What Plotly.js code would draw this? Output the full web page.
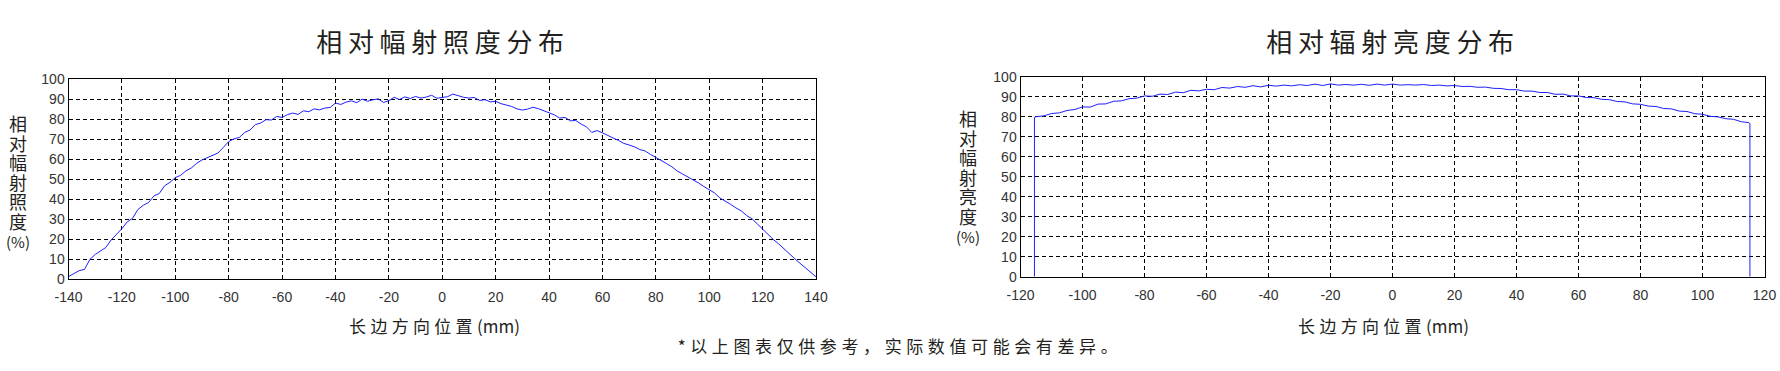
<!DOCTYPE html>
<html>
<head>
<meta charset="utf-8">
<script src="https://cdn.plot.ly/plotly-3.0.1.min.js"></script>
<style>
  html, body { margin: 0; padding: 0; background: #fff; }
  #chart { width: 1780px; height: 371px; }
  g.annotation[data-index="0"] text, g.annotation[data-index="1"] text { letter-spacing: 5.7px; }
  g.annotation[data-index="2"] text, g.annotation[data-index="3"] text { letter-spacing: 4.3px; }
  g.annotation[data-index="4"] text { letter-spacing: 4.6px; }
</style>
</head>
<body>
<div id="chart"></div>
<script>
// ---------- DATA ----------
const irradianceTitle = '相对幅射照度分布';
const radianceTitle = '相对辐射亮度分布';
const xAxisTitleMain = '长边方向位置';
const xAxisTitleUnit = '(mm)';
const irradianceYTitle = ['相', '对', '幅', '射', '照', '度'];
const radianceYTitle = ['相', '对', '幅', '射', '亮', '度'];
const yTitleUnit = '(%)';
const footnote = '*以上图表仅供参考，实际数值可能会有差异。';

const irradianceTickVals = [-140,-120,-100,-80,-60,-40,-20,0,20,40,60,80,100,120,140];
const irradianceTickText = ['-140','-120','-100','-80','-60','-40','-20','0','20','40','60','80','100','120','140'];
const radianceTickVals = [-120,-100,-80,-60,-40,-20,0,20,40,60,80,100,120];
const radianceTickText = ['-120','-100','-80','-60','-40','-20','0','20','40','60','80','100','120'];

const irradianceX = [
  -140,-138,-136,-134,-132,-130,-128,-126,-124,-122,-120,-118,-116,-114,-112,-110,-108,-106,-104,-102,
  -100,-98,-96,-94,-92,-90,-88,-86,-84,-82,-80,-78,-76,-74,-72,-70,-68,-66,-64,-62,
  -60,-58,-56,-54,-52,-50,-48,-46,-44,-42,-40,-38,-36,-34,-32,-30,-28,-26,-24,-22,
  -20,-18,-16,-14,-12,-10,-8,-6,-4,-2,0,2,4,6,8,10,12,14,16,18,
  20,22,24,26,28,30,32,34,36,38,40,42,44,46,48,50,52,54,56,58,
  60,62,64,66,68,70,72,74,76,78,80,82,84,86,88,90,92,94,96,98,
  100,102,104,106,108,110,112,114,116,118,120,122,124,126,128,130,132,134,136,138,140
];
const irradianceY = [
  1.2,2.8,4.2,4.8,9.8,12.3,14.2,15.8,19.6,22.4,25.2,28.6,30.4,34.8,36.9,38.3,41.6,42.8,46.7,48.4,
  50.8,51.9,54.2,55.6,57.9,59.6,60.8,62.3,63.1,65.9,68.8,70.2,70.9,73.4,74.6,77.3,78.1,79.8,79.6,81.4,
  80.9,82.3,83.1,82.4,84.2,83.8,85.2,84.7,85.6,85.9,88.1,87.4,88.6,89.2,88.3,90.1,89.0,89.7,90.2,88.4,
  89.3,91.0,89.9,91.2,90.4,91.4,90.6,91.1,92.0,90.5,90.8,91.3,92.6,91.7,91.0,90.6,90.9,89.4,89.8,88.7,
  89.0,87.8,87.1,86.4,85.2,84.6,85.1,86.0,85.3,84.2,83.1,82.2,80.6,80.9,79.2,79.4,77.6,76.2,73.4,74.3,
  73.2,72.1,70.6,69.4,67.9,67.1,66.2,64.8,64.1,62.4,61.0,59.3,57.8,56.2,54.1,52.6,51.2,49.4,48.1,46.3,
  44.8,43.1,40.6,39.2,37.4,35.6,34.1,31.8,30.2,27.6,24.9,22.3,19.8,17.6,15.1,12.4,10.2,7.9,5.6,3.2,1.1
];

const radianceX = [
  -115.5,-115.5,
  -115,-112.5,-110,-107.5,-105,-102.5,-100,-97.5,-95,-92.5,-90,-87.5,-85,-82.5,-80,-77.5,-75,-72.5,
  -70,-67.5,-65,-62.5,-60,-57.5,-55,-52.5,-50,-47.5,-45,-42.5,-40,-37.5,-35,-32.5,-30,-27.5,-25,-22.5,
  -20,-17.5,-15,-12.5,-10,-7.5,-5,-2.5,0,2.5,5,7.5,10,12.5,15,17.5,20,22.5,25,27.5,
  30,32.5,35,37.5,40,42.5,45,47.5,50,52.5,55,57.5,60,62.5,65,67.5,70,72.5,75,77.5,
  80,82.5,85,87.5,90,92.5,95,97.5,100,102.5,105,107.5,110,112.5,115,
  115.3,115.3
];
const radianceY = [
  0,79.6,
  80.0,80.4,81.6,81.9,83.1,83.6,84.9,84.8,86.3,86.4,87.7,87.9,89.0,89.3,90.4,90.2,91.3,91.1,
  92.3,92.0,93.2,92.9,93.7,93.5,94.6,94.3,95.1,94.7,95.5,94.9,95.7,95.3,95.8,95.4,96.0,95.6,96.3,95.6,
  96.4,95.8,96.1,95.8,96.2,95.7,96.3,95.8,96.3,95.8,96.0,95.8,96.1,95.6,95.8,95.4,95.6,95.1,95.2,94.7,
  94.8,94.2,94.1,93.5,93.5,92.8,92.8,92.1,92.1,91.2,91.3,90.4,90.4,89.6,89.5,88.7,88.5,87.6,87.4,86.4,
  86.2,85.3,85.1,84.1,83.9,82.8,82.6,81.5,81.2,80.2,79.9,79.0,78.7,77.5,77.0,
  76.4,0
];

// ---------- LAYOUT ----------
const W = 1780, H = 371;
const px = x => x / W;
const py = y => 1 - y / H;

const cjk = '"Noto Sans CJK SC", "Noto Sans", sans-serif';
const num = '"Liberation Sans", Arial, sans-serif';
const textColor = '#231f20';

const axisCommon = {
  showgrid: true,
  gridcolor: '#000000',
  gridwidth: 1,
  griddash: '4px,3px',
  zeroline: false,
  showline: true,
  linecolor: '#000000',
  linewidth: 1,
  mirror: true,
  ticks: '',
  tickfont: { family: num, size: 14, color: '#333333' },
  fixedrange: true
};

const lineStyle = { color: '#1e1eff', width: 1 };

const traces = [
  { x: irradianceX, y: irradianceY, type: 'scatter', mode: 'lines', line: lineStyle, xaxis: 'x', yaxis: 'y', hoverinfo: 'skip' },
  { x: radianceX, y: radianceY, type: 'scatter', mode: 'lines', line: lineStyle, xaxis: 'x2', yaxis: 'y2', hoverinfo: 'skip' }
];

const xTitleText = xAxisTitleMain + '<span style="letter-spacing:0px">' + xAxisTitleUnit + '</span>';
// vertical (stacked) y title: line pitch 1.3 x 15px = 19.5px, glyphs drawn at 18px
const stacked = chars => chars.map(c => '<span style="font-size:18px">' + c + '</span>').join('<br>') + '<br>' + yTitleUnit;

const annotations = [
  { text: irradianceTitle, x: px(442.75), y: py(40), font: { family: cjk, size: 26, color: textColor } },
  { text: radianceTitle, x: px(1393.3), y: py(40), font: { family: cjk, size: 26, color: textColor } },
  { text: xTitleText, x: px(434), y: py(325), font: { family: cjk, size: 17, color: textColor } },
  { text: xTitleText, x: px(1383), y: py(325), font: { family: cjk, size: 17, color: textColor } },
  { text: footnote, x: px(900), y: py(345), font: { family: cjk, size: 17, color: textColor } },
  { text: stacked(irradianceYTitle), x: px(18.3), y: py(181), font: { family: cjk, size: 15, color: textColor } },
  { text: stacked(radianceYTitle), x: px(968), y: py(176), font: { family: cjk, size: 15, color: textColor } }
];
annotations.forEach(a => {
  a.xref = 'paper'; a.yref = 'paper'; a.showarrow = false;
  a.xanchor = 'center'; a.yanchor = 'middle'; a.align = 'center';
});

const layout = {
  width: W, height: H,
  margin: { l: 0, r: 0, t: 0, b: 0 },
  paper_bgcolor: '#ffffff',
  plot_bgcolor: '#ffffff',
  showlegend: false,
  font: { family: num, size: 14, color: '#333333' },
  xaxis: Object.assign({}, axisCommon, { domain: [px(68.5), px(816)], range: [-140, 140],
    tickmode: 'array', tickvals: irradianceTickVals, ticktext: irradianceTickText, ticklabelstandoff: 5, anchor: 'y' }),
  yaxis: Object.assign({}, axisCommon, { domain: [py(279), py(79.3)], range: [0, 100], dtick: 10, tick0: 0, anchor: 'x' }),
  xaxis2: Object.assign({}, axisCommon, { domain: [px(1020.5), px(1764.5)], range: [-120, 120],
    tickmode: 'array', tickvals: radianceTickVals, ticktext: radianceTickText, ticklabelstandoff: 5, anchor: 'y2' }),
  yaxis2: Object.assign({}, axisCommon, { domain: [py(276.7), py(76.7)], range: [0, 100], dtick: 10, tick0: 0, anchor: 'x2' }),
  annotations: annotations
};

Plotly.newPlot('chart', traces, layout, { displayModeBar: false, staticPlot: true });
</script>
</body>
</html>
